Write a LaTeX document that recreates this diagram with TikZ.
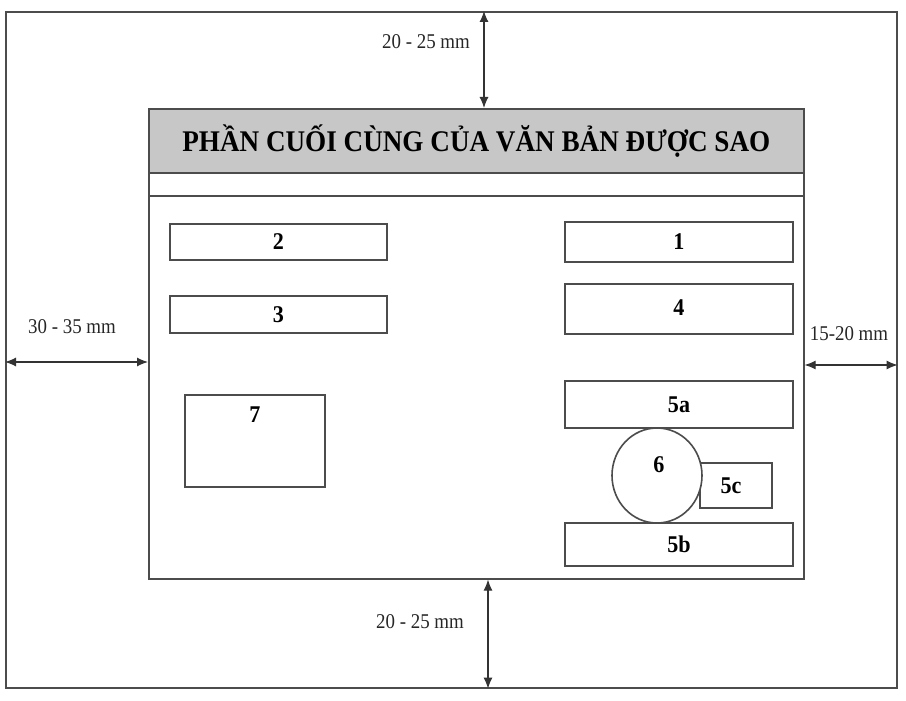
\documentclass[tikz,border=0pt]{standalone}
\usepackage{fontspec}
\setmainfont{Liberation Serif}
\usetikzlibrary{arrows.meta,shapes.geometric}
\begin{document}
\begin{tikzpicture}[x=1pt,y=-1pt,
  frame/.style={draw=black!70, line width=1.6pt, inner sep=0pt},
  box/.style={draw=black!70, line width=1.6pt, fill=white, inner sep=0pt, font=\fontsize{24}{24}\selectfont\bfseries},
  dim/.style={black!80, line width=1.1pt, {Latex[length=11pt,width=9pt]}-{Latex[length=11pt,width=9pt]}},
  dimlabel/.style={font=\fontsize{21}{21}\selectfont, text=black!85, inner sep=0pt}]
\useasboundingbox (0,0) rectangle (906,701);
% outer sheet and page
\node[frame, minimum width=891, minimum height=676, anchor=north west] (outer) at (5,11) {};
\node[frame, minimum width=655, minimum height=470, anchor=north west] (page) at (148,108) {};
\node[frame, fill=black!22, minimum width=655, minimum height=64, anchor=north west,
  font=\fontsize{30}{30}\selectfont\bfseries] (head) at (148,108) {\scalebox{0.905}[1]{PHẦN CUỐI CÙNG CỦA VĂN BẢN ĐƯỢC SAO}};
\node[frame, minimum width=655, minimum height=23, anchor=north west] (band) at (148,172) {};
% boxes
\node[box, minimum width=217, minimum height=36] (b2) at (278.5,242) {\scalebox{0.92}[1]{2}};
\node[box, minimum width=217, minimum height=37] (b3) at (278.5,314.5) {\scalebox{0.92}[1]{3}};
\node[box, minimum width=228, minimum height=40] (b1) at (679,242) {\scalebox{0.92}[1]{1}};
\node[box, minimum width=228, minimum height=50] (b4) at (679,309) {\raisebox{3pt}{\scalebox{0.92}[1]{4}}};
\node[box, minimum width=140, minimum height=92, label={[box,draw=none,fill=none,anchor=north,yshift=-12pt]north:\scalebox{0.92}[1]{7}}] (b7) at (255,441) {};
\node[box, minimum width=228, minimum height=47] (b5a) at (679,404.5) {\scalebox{0.92}[1]{5a}};
\node[box, minimum width=228, minimum height=43] (b5b) at (679,544.5) {\scalebox{0.92}[1]{5b}};
\node[box, minimum width=72, minimum height=45] (b5c) at (736,485.5) {\hspace*{-10pt}\scalebox{0.92}[1]{5c}};
\node[box, ellipse, minimum width=90, minimum height=95] (c6) at (657,475.5) {};
\node[box, draw=none, fill=none] (l6) at (659,465) {\scalebox{0.92}[1]{6}};
% dimension arrows
\coordinate (xt) at (484,0);
\coordinate (xb) at (488,0);
\coordinate (yl) at (0,362);
\coordinate (yr) at (0,365);
\draw[dim] (xt |- outer.north) -- (xt |- page.north);
\draw[dim] (xb |- page.south) -- (xb |- outer.south);
\draw[dim] (yl -| outer.west) -- (yl -| page.west);
\draw[dim] (yr -| page.east) -- (yr -| outer.east);
\node[dimlabel] (dt) at (426,42) {\scalebox{0.9}[1]{20 - 25 mm}};
\node[dimlabel] (db) at (420,622) {\scalebox{0.9}[1]{20 - 25 mm}};
\node[dimlabel] (dl) at (72,327) {\scalebox{0.9}[1]{30 - 35 mm}};
\node[dimlabel] (dr) at (849,334) {\scalebox{0.9}[1]{15-20 mm}};
\end{tikzpicture}
\end{document}
